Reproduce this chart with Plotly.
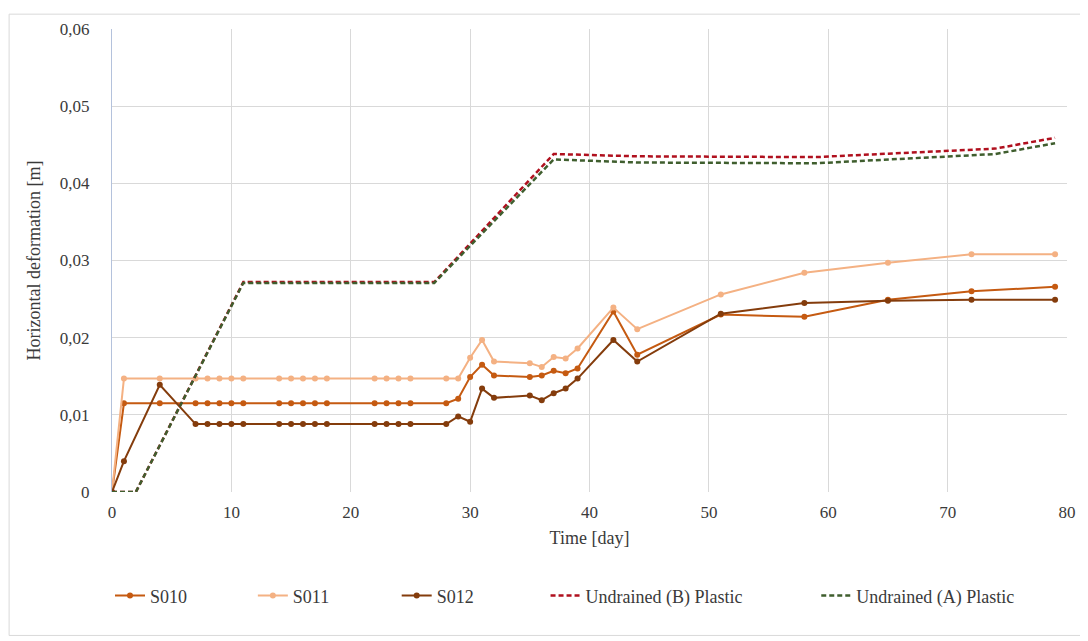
import plotly.graph_objects as go

days_s = [0, 1, 4, 7, 8, 9, 10, 11, 14, 15, 16, 17, 18, 22, 23, 24, 25, 28,
          29, 30, 31, 32, 35, 36, 37, 38, 39, 42, 44, 51, 58, 65, 72, 79]
s010 = [0, 0.0115, 0.0115] + [0.0115] * 15 + [0.0121, 0.0149, 0.0165, 0.0151, 0.0149, 0.0151, 0.0157,
                                              0.0154, 0.0160, 0.0234, 0.0178, 0.0230, 0.0227, 0.0249,
                                              0.0260, 0.0266]
s011 = [0, 0.0147, 0.0147] + [0.0147] * 15 + [0.0147, 0.0174, 0.0197, 0.0169, 0.0167, 0.0162, 0.0175,
                                              0.0173, 0.0186, 0.0239, 0.0211, 0.0256, 0.0284, 0.0297,
                                              0.0308, 0.0308]
s012 = [0, 0.0040, 0.0139] + [0.0088] * 15 + [0.0098, 0.0091, 0.0134, 0.0122, 0.0125, 0.0119, 0.0128,
                                              0.0134, 0.0147, 0.0197, 0.0169, 0.0231, 0.0245, 0.0248,
                                              0.0249, 0.0249]

days_m = [0, 2, 11, 27, 37, 44, 59, 74, 79]
und_b = [0, 0, 0.0272, 0.0272, 0.0438, 0.0435, 0.0434, 0.0445, 0.0459]
und_a = [0, 0, 0.0271, 0.0271, 0.0431, 0.0427, 0.0426, 0.0438, 0.0452]

y_ticks = [0, 0.01, 0.02, 0.03, 0.04, 0.05, 0.06]
y_labels = ["0", "0,01", "0,02", "0,03", "0,04", "0,05", "0,06"]
x_ticks = [0, 10, 20, 30, 40, 50, 60, 70, 80]

FONT = "Liberation Serif, Times New Roman, Times, serif"
TXT = "#3a3a3a"
OFF = 8  # page body margin
PL, PR, PT, PB = 112, 1068, 24, 492  # plot area in page pixels
W, H = 1088 - OFF, 641 - OFF
pw, ph = PR - PL, PB - PT

def px_x(p):
    return (p - PL) / pw

def px_y(p):
    return (PB - p) / ph

fig = go.Figure()
series = [
    ("S010", days_s, s010, "#C55A11", "solid", True, "legend"),
    ("S011", days_s, s011, "#F4B183", "solid", True, "legend2"),
    ("S012", days_s, s012, "#843C0C", "solid", True, "legend3"),
    ("Undrained (B) Plastic", days_m, und_b, "#B0101E", "5px,3px", False, "legend4"),
    ("Undrained (A) Plastic", days_m, und_a, "#3F5E2E", "5px,3px", False, "legend5"),
]
for name, xs, ys, col, dash, mk, lg in series:
    fig.add_trace(go.Scatter(
        x=xs, y=ys, name=name, legend=lg,
        mode="lines+markers" if mk else "lines",
        line=dict(color=col, width=2 if mk else 2.5, dash=dash),
        marker=dict(color=col, size=6),
    ))

legend_text_px = [151, 294, 438, 587, 858]
layout_legends = {}
for i, p in enumerate(legend_text_px):
    key = "legend" if i == 0 else f"legend{i+1}"
    layout_legends[key] = dict(
        x=px_x(p - 41), y=px_y(597), xanchor="left", yanchor="middle",
        orientation="h", bgcolor="rgba(0,0,0,0)",
        font=dict(family=FONT, size=18, color=TXT),
        itemwidth=30,
    )

fig.update_layout(
    width=W, height=H,
    margin=dict(l=PL - OFF, r=1088 - PR, t=PT - OFF, b=641 - PB),
    plot_bgcolor="white", paper_bgcolor="white",
    font=dict(family=FONT, size=17, color=TXT),
    showlegend=True,
    **layout_legends,
    shapes=[dict(type="rect", xref="paper", yref="paper",
                 x0=px_x(9), x1=px_x(1085), y0=px_y(637), y1=px_y(9),
                 line=dict(color="#D9D9D9", width=1), layer="below")],
)
fig.update_xaxes(
    range=[0, 80], tickvals=x_ticks, showgrid=True, gridcolor="#D9D9D9",
    zeroline=False, showline=False, ticks="", ticklabelstandoff=8,
    title=dict(text="Time [day]", font=dict(family=FONT, size=18, color=TXT), standoff=10),
    tickfont=dict(family=FONT, size=17, color=TXT),
)
fig.update_yaxes(
    range=[0, 0.06], tickvals=y_ticks, ticktext=y_labels, showgrid=True, gridcolor="#D9D9D9",
    zeroline=False, showline=True, linecolor="#B4C2DC", linewidth=1, ticks="",
    ticklabelstandoff=18,
    title=dict(text="Horizontal deformation [m]", font=dict(family=FONT, size=18, color=TXT), standoff=14),
    tickfont=dict(family=FONT, size=17, color=TXT),
)

fig.write_html("out.html")
